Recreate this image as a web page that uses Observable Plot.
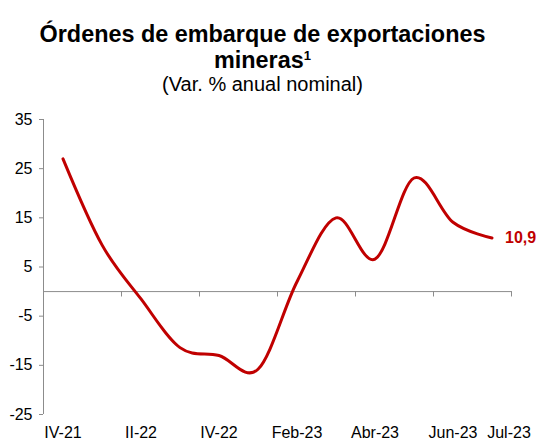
<!DOCTYPE html>
<html>
<head>
<meta charset="utf-8">
<script src="https://cdn.jsdelivr.net/npm/d3@7"></script>
<script src="https://cdn.jsdelivr.net/npm/@observablehq/plot@0.6"></script>
<style>
  body { margin: 0; background: #fff; font-family: "Liberation Sans", Arial, sans-serif; }
  #wrap { width: 538px; height: 440px; overflow: hidden; }
  .title { width: 525px; text-align: center; font-weight: bold; font-size: 23.4px; line-height: 26px; padding-top: 21px; color: #000; }
  .title div { height: 26px; }
  .title sup { font-size: 13px; vertical-align: 8px; line-height: 0; }
  .subtitle { width: 525px; text-align: center; font-size: 20px; line-height: 22px; color: #000; }
  svg { display: block; }
</style>
</head>
<body>
<div id="wrap">
  <div class="title"><div>Órdenes de embarque de exportaciones</div><div>mineras<sup>1</sup></div></div>
  <div class="subtitle">(Var. % anual nominal)</div>
  <div id="chart"></div>
</div>
<script>
const categories = ["IV-21","I-22","II-22","III-22","IV-22","Ene-23","Feb-23","Mar-23","Abr-23","May-23","Jun-23","Jul-23"];
const values = [27.0, 9.5, -1.5, -11.4, -13.0, -15.8, 2.0, 15.0, 6.6, 23.1, 14.1, 10.9];
const xTickLabels = ["IV-21","II-22","IV-22","Feb-23","Abr-23","Jun-23"];
const lastLabel = "Jul-23";
const yTicks = [-25, -15, -5, 5, 15, 25, 35];

const data = categories.map((c, i) => ({i, c, v: values[i]}));
const n = categories.length;
const bounds = d3.range(-0.5, n, 2);
const labelIdx = xTickLabels.map(l => categories.indexOf(l));
const last = data[n - 1];
const fmt = v => d3.format(".1f")(v).replace(".", ",");
const axisGray = "#8c8c8c";
const red = "#C00000";

const chart = Plot.plot({
  width: 538,
  height: 345,
  marginTop: 24,
  marginBottom: 26,
  marginLeft: 43,
  marginRight: 27,
  style: {fontFamily: "'Liberation Sans', Arial, sans-serif", fontSize: "16px", color: "#000", background: "transparent", overflow: "visible"},
  x: {type: "linear", domain: [-0.5, n - 0.5], axis: null},
  y: {domain: [-25, 35], axis: null},
  marks: [
    Plot.ruleX([-0.5], {y1: -25, y2: 35, stroke: axisGray}),
    Plot.axisY({ticks: yTicks, tickFormat: d => String(d), tickSize: 4, tickPadding: 7, stroke: axisGray, fill: "#000", label: null, fontSize: 16}),
    Plot.ruleY([0], {stroke: axisGray}),
    Plot.ruleX(bounds, {x: d => d, y1: 0, y2: -1.1, stroke: axisGray}),
    Plot.axisX({ticks: labelIdx, tickFormat: i => categories[i], tickSize: 0, tickPadding: 12, label: null, fill: "#000", fontSize: 16}),
    Plot.text([lastLabel], {x: d => categories.indexOf(d), text: d => d, frameAnchor: "bottom", lineAnchor: "top", dy: 12, dx: 17, fill: "#000", fontSize: 16}),
    Plot.line(data, {x: "i", y: "v", curve: "cardinal", stroke: red, strokeWidth: 3}),
    Plot.text([last], {x: "i", y: "v", text: d => fmt(d.v), dx: 13, textAnchor: "start", fill: red, fontWeight: "bold", fontSize: 16})
  ]
});
document.getElementById("chart").appendChild(chart);
</script>
</body>
</html>
